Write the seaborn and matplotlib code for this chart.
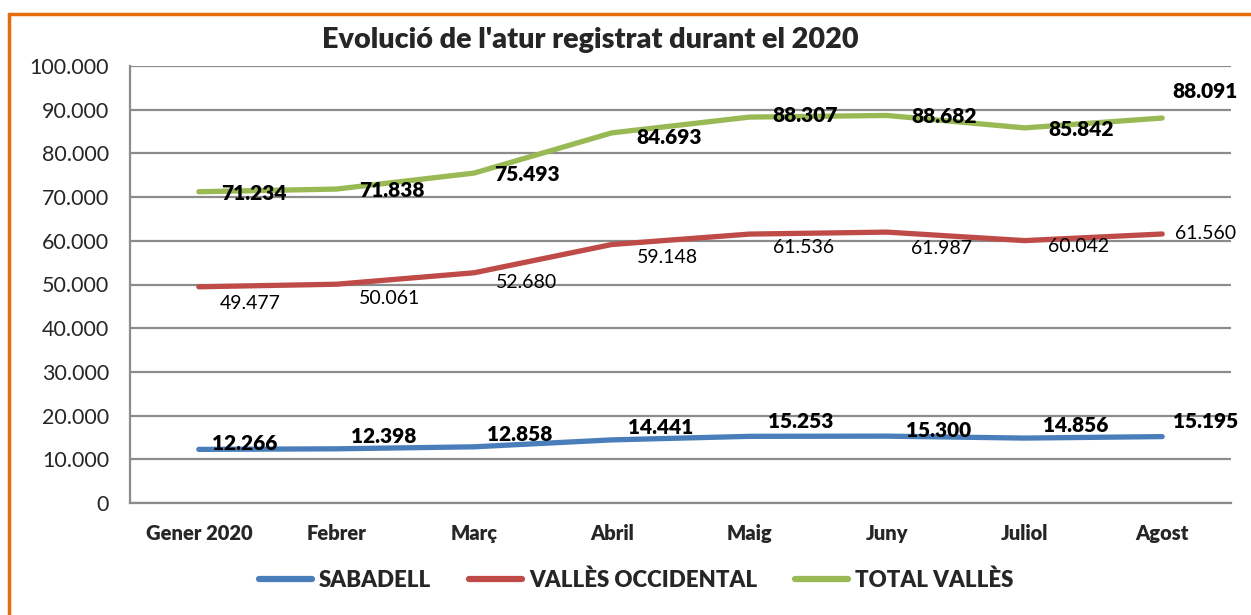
import matplotlib
matplotlib.use("Agg")
import matplotlib.pyplot as plt
import seaborn as sns
import pandas as pd
from matplotlib.lines import Line2D
from matplotlib.ticker import FuncFormatter, MultipleLocator, FixedLocator

months = ["Gener 2020", "Febrer", "Març", "Abril", "Maig", "Juny", "Juliol", "Agost"]
sabadell = [12266, 12398, 12858, 14441, 15253, 15300, 14856, 15195]
valles_occ = [49477, 50061, 52680, 59148, 61536, 61987, 60042, 61560]
total_valles = [71234, 71838, 75493, 84693, 88307, 88682, 85842, 88091]
series_names = ["SABADELL", "VALLÈS OCCIDENTAL", "TOTAL VALLÈS"]
title = "Evolució de l'atur registrat durant el 2020"

colors = {"SABADELL": "#4A7EBB", "VALLÈS OCCIDENTAL": "#BE4B48", "TOTAL VALLÈS": "#98B954"}

sns.set_style("white")
plt.rcParams['font.family'] = ['Lato', 'DejaVu Sans']
BW = "heavy"

rows = []
for name, vals in zip(series_names, [sabadell, valles_occ, total_valles]):
    for i, (m, v) in enumerate(zip(months, vals)):
        rows.append({"idx": i, "Mes": m, "Serie": name, "Valor": v})
df = pd.DataFrame(rows)

fig = plt.figure(figsize=(12.51, 6.15), dpi=100)
ax = fig.add_axes([130/1251, 1-503/615, (1231-130)/1251, (503-66)/615])

sns.lineplot(data=df, x="idx", y="Valor", hue="Serie", palette=colors,
             hue_order=series_names, linewidth=3.8, ax=ax, legend=False,
             solid_capstyle="round")

ax.set_xlim(-0.5, 7.5)
ax.set_ylim(0, 100000)
ax.yaxis.set_major_locator(MultipleLocator(10000))
ax.yaxis.set_major_formatter(FuncFormatter(lambda v, p: f"{int(v):,}".replace(",", ".")))
ax.grid(axis="y", color="#8C8C8C", linewidth=1.6)
ax.set_axisbelow(True)
for s in ["top", "right"]:
    ax.spines[s].set_visible(False)
for s in ["left", "bottom"]:
    ax.spines[s].set_color("#8C8C8C")
    ax.spines[s].set_linewidth(1.6)

ax.xaxis.set_major_locator(FixedLocator(range(len(months))))
ax.set_xticklabels(months, fontsize=14.5, fontweight=BW)
ax.xaxis.set_minor_locator(FixedLocator([i - 0.5 for i in range(len(months) + 1)]))
ax.tick_params(axis="x", which="major", length=0, pad=15)
ax.tick_params(axis="x", which="minor", length=7, width=1.6, color="#8C8C8C")
ax.tick_params(axis="y", length=5, width=1.6, color="#8C8C8C", labelsize=15.5, pad=10)
ax.set_xlabel("")
ax.set_ylabel("")

fmt = lambda v: f"{v:,}".replace(",", ".")
# label offsets in points (style only)
green_off = [(40, -1), (40, -1), (38, -1), (41, -3), (40, 1), (41, -1), (41, -1), (31, 19)]
red_off = [(37, -12), (38, -10), (38, -7), (40, -9), (39, -10), (39, -12), (39, -4), (31, 0)]
blue_off = [(33, 4), (34, 9), (33, 9), (35, 9), (37, 11), (37, 4), (37, 9), (31, 11)]

for vals, offs, weight in [(total_valles, green_off, BW),
                           (valles_occ, red_off, "normal"),
                           (sabadell, blue_off, BW)]:
    for i, (v, o) in enumerate(zip(vals, offs)):
        ax.annotate(fmt(v), (i, v), xytext=o, textcoords="offset points",
                    ha="center", va="center", fontsize=15 if weight == BW else 14,
                    fontweight=weight, color="black", annotation_clip=False)

fig.text(590/1251, 1-40/615, title, ha="center", va="center", fontsize=20.7, fontweight=BW)

handles = [Line2D([0], [0], color=colors[n], linewidth=4.5, solid_capstyle="round") for n in series_names]
fig.legend(handles, series_names, loc="center", bbox_to_anchor=(636/1251, 1-580/615), ncol=3,
           frameon=False, prop={"weight": BW, "size": 16}, handlelength=2.4,
           handletextpad=0.3, columnspacing=1.7)

# orange frame (left and top edges)
fig.add_artist(Line2D([9/1251, 9/1251], [0, 1-14/615], color="#E46C0A", linewidth=2.5,
                      transform=fig.transFigure))
fig.add_artist(Line2D([9/1251, 1], [1-14/615, 1-14/615], color="#E46C0A", linewidth=2.5,
                      transform=fig.transFigure))

fig.savefig("out.png", dpi=100)
